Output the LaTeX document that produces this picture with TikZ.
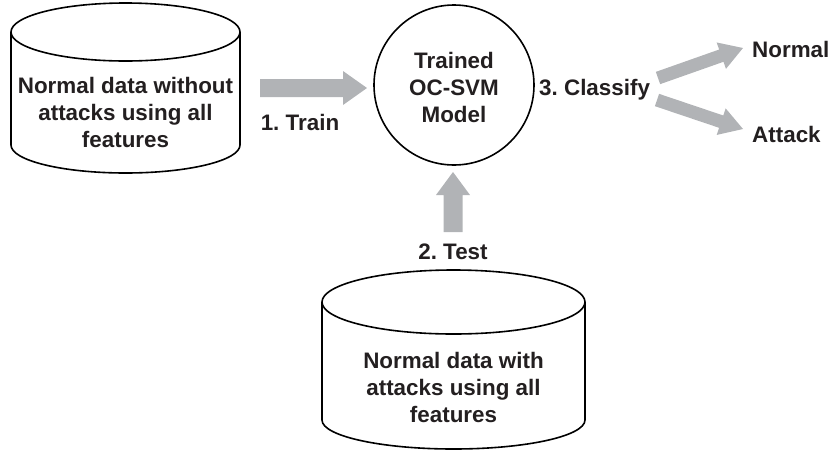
\documentclass[tikz,border=0pt]{standalone}
\usepackage{fontspec}
\setmainfont{Liberation Sans}
\usetikzlibrary{calc}
\frenchspacing
\definecolor{arrowgray}{RGB}{177,179,182}
\definecolor{textdark}{RGB}{35,31,32}
\newcommand\myfatarrow[5]{%
  \path ($(#2)!#5!(#1)$) coordinate (hb);
  \fill[arrowgray] ($(#1)!#3!90:(#2)$) -- ($(hb)!#3!90:(#2)$) -- ($(hb)!#4!90:(#2)$) -- (#2)
    -- ($(hb)!#4!-90:(#2)$) -- ($(hb)!#3!-90:(#2)$) -- ($(#1)!#3!-90:(#2)$) -- cycle;}
\tikzset{
  outline/.style={draw=black, line width=1.6pt},
  lbl/.style={font=\bfseries\fontsize{22.4}{27}\selectfont\frenchspacing, text=textdark, inner sep=0pt},
  multi/.style={lbl, align=center, anchor=north},
}
\begin{document}
\begin{tikzpicture}[x=1pt,y=-1pt]
\useasboundingbox (0,0) rectangle (831,451);
% top-left cylinder
\draw[outline] (11,32) -- (11,145) arc[start angle=180,end angle=360,x radius=114.5pt,y radius=28pt] -- (240,32);
\draw[outline] (125.5,32) ellipse[x radius=114.5pt,y radius=29pt];
\node[multi] (train data) at (125.5,77) {Normal data without\\attacks using all\\features};
% bottom cylinder
\draw[outline] (322,302) -- (322,420) arc[start angle=180,end angle=360,x radius=131.5pt,y radius=29pt] -- (585,302);
\draw[outline] (453.5,302) ellipse[x radius=131.5pt,y radius=32pt];
\node[multi] (test data) at (453.5,352) {Normal data with\\attacks using all\\features};
% model circle
\node[circle, outline, minimum size=160pt, inner sep=0pt] (model) at (454,85) {};
\node[multi] (model text) at (454,52) {Trained\\OC-SVM\\Model};
% labels
\node[lbl, anchor=base] (train) at (300,130) {1. Train};
\node[lbl, anchor=base] (test) at (453,259) {2. Test};
\node[lbl, anchor=base west] (classify) at (539,95) {3. Classify};
\node[lbl, anchor=base west] (normal) at (752,57) {Normal};
\node[lbl, anchor=base west] (attack) at (752,142) {Attack};
% arrows
\coordinate (a1s) at (260,88);  \coordinate (a1e) at (367,88);
\coordinate (a2s) at (453,232); \coordinate (a2e) at (453,172);
\coordinate (a3s) at (658,78);  \coordinate (a3e) at (743,48);
\coordinate (a4s) at (657,100); \coordinate (a4e) at (743,129);
\myfatarrow{a1s}{a1e}{9pt}{17pt}{24pt}
\myfatarrow{a2s}{a2e}{9.5pt}{17pt}{23pt}
\myfatarrow{a3s}{a3e}{6.5pt}{14pt}{23pt}
\myfatarrow{a4s}{a4e}{6.5pt}{14pt}{23pt}
\end{tikzpicture}
\end{document}
